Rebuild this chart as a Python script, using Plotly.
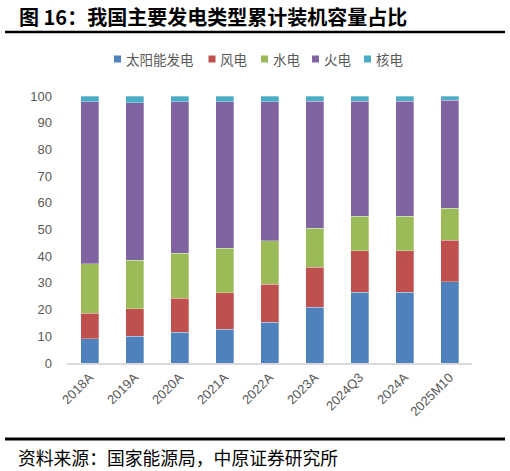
import plotly.graph_objects as go

categories = ["2018A", "2019A", "2020A", "2021A", "2022A", "2023A", "2024Q3", "2024A", "2025M10"]
solar = [9.1, 10.1, 11.6, 12.7, 15.3, 20.8, 26.5, 26.5, 30.4]
wind = [9.6, 10.3, 12.6, 13.7, 14.2, 15.1, 15.6, 15.6, 15.6]
hydro = [18.5, 18.0, 16.9, 16.6, 16.2, 14.5, 12.9, 12.9, 12.0]
thermal = [60.6, 59.1, 56.7, 54.8, 52.1, 47.7, 43.1, 43.1, 40.5]
nuclear = [2.2, 2.5, 2.2, 2.2, 2.1, 1.9, 1.9, 1.9, 1.5]

series = [
    ("太阳能发电", solar, "#4F81BD"),
    ("风电", wind, "#C0504D"),
    ("水电", hydro, "#9BBB59"),
    ("火电", thermal, "#8064A2"),
    ("核电", nuclear, "#4BACC6"),
]
legend_x = [117.5, 212, 264.5, 315.5, 367.5]  # legend swatch centres, px

W, H = 510, 471
L, R, T, B = 67, 472, 96, 363  # plot area in pixels


def px(x):
    return (x - L) / (R - L)


def py(y):
    return (B - y) / (B - T)


fig = go.Figure()
for name, vals, color in series:
    fig.add_trace(go.Bar(
        x=categories, y=vals, name=name,
        marker=dict(color=color, line=dict(color="rgba(255,255,255,0.5)", width=0.6)),
    ))

shapes = [
    dict(type="line", xref="paper", yref="paper", x0=px(5), x1=px(505), y0=py(32), y1=py(32),
         line=dict(color="black", width=2.5)),
    dict(type="line", xref="paper", yref="paper", x0=px(5), x1=px(505), y0=py(439), y1=py(439),
         line=dict(color="black", width=3)),
]
annotations = [
    dict(text="<b>图 16：我国主要发电类型累计装机容量占比</b>", xref="paper", yref="paper",
         x=px(17), y=py(17), xanchor="left", yanchor="middle", showarrow=False,
         font=dict(family="Noto Sans CJK SC", size=20, color="black")),
    dict(text="资料来源：国家能源局，中原证券研究所", xref="paper", yref="paper",
         x=px(16), y=py(457), xanchor="left", yanchor="middle", showarrow=False,
         font=dict(family="Noto Sans CJK SC", size=17.8, color="black")),
]

# hand-built legend: small squares with the series name beside them
for (name, _, color), lx in zip(series, legend_x):
    shapes.append(dict(type="rect", xref="paper", yref="paper",
                       xsizemode="pixel", ysizemode="pixel",
                       xanchor=px(lx), yanchor=py(59), x0=-3.5, x1=3.5, y0=-3.5, y1=3.5,
                       fillcolor=color, line=dict(width=0)))
    annotations.append(dict(text=name, xref="paper", yref="paper", x=px(lx + 6), y=py(59),
                            xanchor="left", yanchor="middle", showarrow=False,
                            font=dict(family="Noto Sans CJK SC", size=13.5, color="#595959")))

fig.update_layout(
    width=W, height=H,
    margin=dict(l=L, r=W - R, t=T, b=H - B),
    barmode="stack", bargap=0.6,
    plot_bgcolor="white", paper_bgcolor="white",
    font=dict(family="Noto Sans CJK SC", color="#595959", size=13),
    showlegend=False,
    xaxis=dict(showline=True, linecolor="#D9D9D9", linewidth=1.5, tickangle=-45,
               tickfont=dict(family="Liberation Sans", size=13, color="#595959"),
               showgrid=False, ticks=""),
    yaxis=dict(range=[0, 100], dtick=10, showgrid=False, zeroline=False, showline=False,
               tickfont=dict(family="Liberation Sans", size=13, color="#595959"),
               ticks="", ticklabelstandoff=14),
    shapes=shapes,
    annotations=annotations,
)

# drop the browser's default page margin so the figure sits at the window's corner
fig.write_html("out.html", config={"displayModeBar": False},
               post_script="document.body.style.margin='0';")
